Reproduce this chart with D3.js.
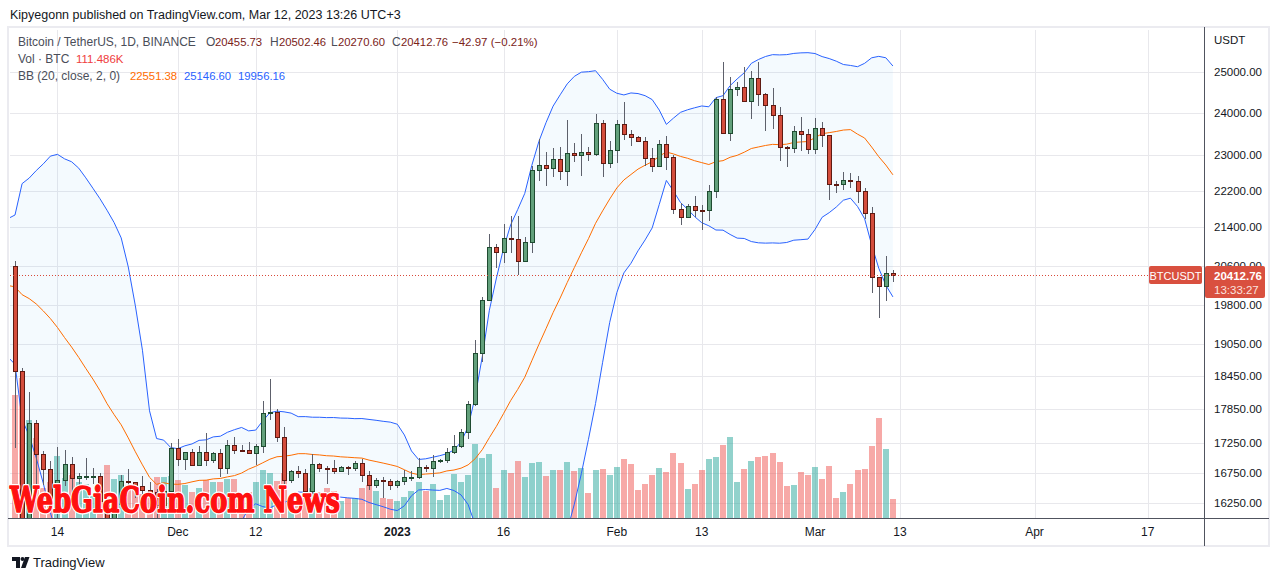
<!DOCTYPE html>
<html>
<head>
<meta charset="utf-8">
<script src="https://cdn.jsdelivr.net/npm/d3@7"></script>
<style>
  body { margin: 0; background: #fff; }
  svg { display: block; font-family: "Liberation Sans", Arial, sans-serif; }
</style>
</head>
<body>
<script>
// BTCUSDT daily, Binance, 2022-11-08 .. 2023-03-12
const firstDay = Date.UTC(2022, 10, 8);

const opens = [20590,18541,15922,17601,17070,16812,16330,16620,16900,16663,16693,16700,16700,16280,15781,16226,16603,16598,16522,16458,16428,16213,16442,
  17163,16978,17092,16885,17105,16967,17088,16836,17224,17128,17127,17085,17209,17775,17804,17356,16633,16777,16739,16438,16895,16824,16821,16778,16837,16830,16919,16706,16547,16633,16607,
  16542,16616,16672,16675,16850,16831,16951,16955,17091,17196,17446,17934,18869,19909,20977,20880,21169,21161,20688,21086,22667,22783,22707,22917,22632,23060,23009,23074,23022,23743,22827,
  23125,23733,23492,23432,23326,22932,22762,23249,22963,21797,21626,21862,21783,21773,22199,24324,23517,24569,24631,24271,24837,24439,24188,23947,23199,23157,23554,23492,
  23141,23628,23465,22354,22346,22430,22409,22195,21705,20362,20187,20456];
const highs = [20700,18587,18150,17655,17109,16947,17190,17134,17015,16740,16995,16821,16748,16300,16253,16707,16812,16600,16700,16600,16487,16530,17250,
  17320,17105,17158,17202,17424,17107,17142,17299,17360,17227,17270,17241,18000,18387,17854,17531,16796,16863,16815,17061,16919,16868,16955,16869,16861,16944,16972,16785,16664,16677,16650,
  16628,16799,16778,16991,16879,17041,16981,17176,17398,17499,17990,19117,19964,21258,21050,21466,21650,21650,21192,22755,23375,23078,23165,23180,23816,23282,23500,23189,23960,23816,23320,
  23812,24255,23587,23440,23430,23160,23358,23453,23011,21938,21906,22090,21888,22320,24380,25250,24873,24750,25121,25020,25250,24478,24600,24125,23221,23689,23895,23600,
  23880,23780,23476,22410,22613,22603,22537,22268,21834,20367,20792,20502];
const lows = [17166,15588,15754,16361,16545,16229,15815,16527,16378,16410,16628,16560,16182,15476,15645,16160,16458,16325,16400,16400,16001,16100,16428,
  16855,16787,16858,16878,16867,16906,16678,16733,17060,17091,17071,16871,17080,17660,17275,16527,16584,16663,16256,16398,16760,16559,16731,16759,16712,16786,16592,16465,16488,16333,16470,
  16499,16548,16605,16652,16753,16679,16908,16911,17064,17162,17315,17911,18714,19889,20551,20658,20850,20407,20665,20861,22422,22292,22500,22437,22300,22850,22534,22878,22979,22500,22714,
  22812,23363,23207,23324,22750,22628,22745,22665,21688,21451,21599,21633,21351,21532,22047,23505,23330,24404,24250,23840,24150,23574,23608,22862,22722,23060,23106,23020,
  23020,23195,22000,22157,22212,22259,21927,21580,20042,19549,19886,20271];
const closes = [18541,15922,17601,17070,16812,16330,16620,16900,16663,16693,16700,16700,16280,15781,16226,16603,16598,16522,16458,16428,16213,16442,17163,
  16978,17092,16885,17105,16967,17088,16836,17224,17128,17127,17085,17209,17775,17804,17356,16633,16777,16739,16438,16895,16824,16821,16778,16837,16830,16919,16706,16547,16633,16607,16542,
  16616,16672,16675,16850,16831,16951,16955,17091,17196,17446,17934,18869,19909,20977,20880,21169,21161,20688,21086,22667,22783,22707,22917,22632,23060,23009,23074,23022,23743,22827,23125,
  23733,23492,23432,23326,22932,22762,23249,22963,21797,21626,21862,21783,21773,22199,24324,23517,24569,24631,24271,24837,24439,24188,23947,23199,23157,23554,23492,23141,
  23628,23465,22354,22346,22430,22409,22195,21705,20362,20187,20456,20412.76];
// volume, thousands of BTC
const volumes = [722,822,575,470,176,211,364,235,252,211,200,129,176,311,229,252,194,164,141,141,241,241,247,
  223,194,153,176,223,211,211,229,229,129,153,211,282,264,217,264,106,100,147,176,153,176,158,100,117,117,176,194,158,117,112,
  100,123,158,211,158,200,106,135,258,211,252,434,352,376,176,282,264,335,241,323,329,247,282,282,329,276,294,147,282,288,252,
  299,346,317,164,200,252,294,270,382,323,170,200,282,346,358,429,475,211,288,335,358,364,382,329,188,194,270,252,
  299,229,305,117,153,200,282,288,423,587,405,111.486];
// closes Oct 19 .. Nov 7 2022, feeding the first Bollinger windows
const priorCloses = [19123,19041,19164,19204,19570,19330,20080,20771,20295,20591,20809,20627,20491,20483,20151,20207,21148,21300,20905,20591];

const priceTicks = [16250,16750,17250,17850,18450,19050,19800,20600,21400,22200,23000,24000,25000];
const dateTicks = [[2022,10,14],[2022,11,1],[2022,11,12],[2023,0,1],[2023,0,16],[2023,1,1],[2023,1,13],[2023,2,1],[2023,2,13],[2023,3,1],[2023,3,17]];
const dateLabels = ["14","Dec","12","2023","16","Feb","13","Mar","13","Apr","17"];
const lastPrice = 20412.76;

const W = 1280, H = 581;
const plot = {left: 10, right: 1204, top: 30, bottom: 518};

const upFill = "#62a07b", upLine = "#1f4b31";
const dnFill = "#d44d3c", dnLine = "#5f1a12";
const wickCol = "#5d606b";
const gridCol = "#e8e8ec";
const textCol = "#131722";

const data = closes.map((c, i) => ({
  date: d3.utcDay.offset(new Date(firstDay), i),
  o: opens[i], h: highs[i], l: lows[i], c: c, v: volumes[i]
}));

// bollinger 20 / 2
const allCloses = priorCloses.concat(closes);
const bb = [];
for (let k = 19; k < allCloses.length; k++) {
  const win = allCloses.slice(k - 19, k + 1);
  const m = d3.mean(win);
  const sd = Math.sqrt(d3.mean(win, v => (v - m) * (v - m)));
  bb.push({date: d3.utcDay.offset(new Date(firstDay), k - 20), mid: m, up: m + 2 * sd, lo: m - 2 * sd});
}

const x = d3.scaleUtc()
  .domain([new Date(firstDay), new Date(Date.UTC(2023, 2, 13))])
  .range([15, 900]);
const y = d3.scaleLog().domain([16250, 25000]).range([503, 71.7]);
const yVol = d3.scaleLinear().domain([0, 1000]).range([plot.bottom, plot.bottom - 170.4]);

const svg = d3.select("body").append("svg")
  .attr("width", W)
  .attr("height", H);

svg.append("defs").append("clipPath").attr("id", "plotclip")
  .append("rect")
  .attr("x", plot.left).attr("y", plot.top)
  .attr("width", plot.right - plot.left).attr("height", plot.bottom - plot.top);

// header
svg.append("text")
  .attr("x", 10).attr("y", 19)
  .attr("font-size", 12.5).attr("fill", textCol)
  .text("Kipyegonn published on TradingView.com, Mar 12, 2023 13:26 UTC+3");

// frame
svg.append("rect")
  .attr("x", 8).attr("y", 27).attr("width", 1261).attr("height", 519)
  .attr("fill", "none").attr("stroke", "#ebebf0").attr("stroke-width", 2);

// grid
const grid = svg.append("g").attr("shape-rendering", "crispEdges");
grid.selectAll(".hg").data(priceTicks).enter().append("line")
  .attr("x1", plot.left).attr("x2", plot.right)
  .attr("y1", d => Math.round(y(d)) + 0.5).attr("y2", d => Math.round(y(d)) + 0.5)
  .attr("stroke", gridCol);
const tickDates = dateTicks.map(d => new Date(Date.UTC(d[0], d[1], d[2])));
grid.selectAll(".vg").data(tickDates).enter().append("line")
  .attr("x1", d => Math.round(x(d)) + 0.5).attr("x2", d => Math.round(x(d)) + 0.5)
  .attr("y1", plot.top).attr("y2", plot.bottom)
  .attr("stroke", gridCol);

const g = svg.append("g").attr("clip-path", "url(#plotclip)");

// band fill
g.append("path").datum(bb)
  .attr("fill", "rgba(33,150,243,0.05)")
  .attr("d", d3.area().x(d => x(d.date)).y0(d => y(d.lo)).y1(d => y(d.up)));

// volume
g.append("g").attr("shape-rendering", "crispEdges")
  .selectAll("rect").data(data).enter().append("rect")
  .attr("x", d => Math.round(x(d.date)) - 3)
  .attr("width", 6)
  .attr("y", d => yVol(d.v))
  .attr("height", d => plot.bottom - yVol(d.v))
  .attr("fill", d => d.c >= d.o ? "rgba(38,166,154,0.5)" : "rgba(239,83,80,0.5)");

// bands
const line = key => d3.line().x(d => x(d.date)).y(d => y(d[key]));
g.append("path").datum(bb).attr("fill", "none").attr("stroke", "#2962ff").attr("stroke-width", 1).attr("d", line("up"));
g.append("path").datum(bb).attr("fill", "none").attr("stroke", "#2962ff").attr("stroke-width", 1).attr("d", line("lo"));
g.append("path").datum(bb).attr("fill", "none").attr("stroke", "#ff6d00").attr("stroke-width", 1).attr("d", line("mid"));

// candles
const cg = g.append("g").attr("shape-rendering", "crispEdges");
cg.selectAll("line").data(data).enter().append("line")
  .attr("x1", d => Math.round(x(d.date)) + 0.5).attr("x2", d => Math.round(x(d.date)) + 0.5)
  .attr("y1", d => y(d.h)).attr("y2", d => y(d.l))
  .attr("stroke", wickCol);
cg.selectAll("rect").data(data).enter().append("rect")
  .attr("x", d => Math.round(x(d.date)) - 2 + 0.5)
  .attr("width", 4)
  .attr("y", d => Math.round(y(Math.max(d.o, d.c))) + 0.5)
  .attr("height", d => Math.max(1, Math.round(y(Math.min(d.o, d.c))) - Math.round(y(Math.max(d.o, d.c)))))
  .attr("fill", d => d.c >= d.o ? upFill : dnFill)
  .attr("stroke", d => d.c >= d.o ? upLine : dnLine);

// last price line
const py = Math.round(y(lastPrice)) + 0.5;
g.append("line")
  .attr("x1", plot.left).attr("x2", plot.right)
  .attr("y1", py).attr("y2", py)
  .attr("stroke", "#d84a3a").attr("stroke-dasharray", "1,2");

// axes lines
svg.append("line").attr("x1", 1204.5).attr("x2", 1204.5).attr("y1", 27).attr("y2", 546)
  .attr("stroke", "#50535e");
svg.append("line").attr("x1", 8).attr("x2", 1269).attr("y1", 518.5).attr("y2", 518.5)
  .attr("stroke", "#50535e");

// price axis labels
svg.append("g").selectAll("text").data(priceTicks).enter().append("text")
  .attr("x", 1214).attr("y", d => y(d))
  .attr("dy", "0.35em")
  .attr("font-size", 11.5).attr("fill", textCol)
  .text(d => d3.format(".2f")(d));
svg.append("text").attr("x", 1214).attr("y", 44).attr("font-size", 11.5).attr("fill", textCol).text("USDT");

// date labels
svg.append("g").selectAll("text").data(tickDates).enter().append("text")
  .attr("x", d => x(d)).attr("y", 536)
  .attr("text-anchor", "middle")
  .attr("font-size", 12).attr("fill", textCol)
  .attr("font-weight", (d, i) => dateLabels[i] === "2023" ? "bold" : null)
  .text((d, i) => dateLabels[i]);

// last price tags
const tagCol = "#d9503f";
svg.append("rect").attr("x", 1149).attr("y", py - 9.5).attr("width", 53).attr("height", 18).attr("rx", 2).attr("fill", tagCol);
svg.append("text").attr("x", 1175.5).attr("y", py + 4).attr("text-anchor", "middle")
  .attr("font-size", 11).attr("fill", "#fff").text("BTCUSDT");
svg.append("rect").attr("x", 1205).attr("y", py - 9.5).attr("width", 60).attr("height", 32).attr("rx", 2).attr("fill", tagCol);
svg.append("text").attr("x", 1214).attr("y", py + 4).attr("font-size", 11.5).attr("font-weight", "bold")
  .attr("fill", "#fff").text(d3.format(".2f")(lastPrice));
svg.append("text").attr("x", 1214).attr("y", py + 18).attr("font-size", 11.5)
  .attr("fill", "#fbe3df").text("13:33:27");

// legend (labels 12px, numbers a touch narrower)
const legend = svg.append("g");
const legendRows = [
  [[18, "Bitcoin / TetherUS, 1D, BINANCE", "#4a4e59", 12], [206, "O", "#4a4e59", 12], [215, "20455.73", "#7a2218", 11.3],
   [270, "H", "#4a4e59", 12], [279, "20502.46", "#7a2218", 11.3], [331, "L", "#4a4e59", 12], [338, "20270.60", "#7a2218", 11.3],
   [392, "C", "#4a4e59", 12], [401, "20412.76", "#7a2218", 11.3], [452, "\u221242.97 (\u22120.21%)", "#7a2218", 11.5]],
  [[18, "Vol \u00b7 BTC", "#4a4e59", 12], [76, "111.486K", "#ef4040", 11.5]],
  [[18, "BB (20, close, 2, 0)", "#4a4e59", 12], [130, "22551.38", "#ff6d00", 11.3], [184, "25146.60", "#2962ff", 11.3], [238, "19956.16", "#2962ff", 11.3]]
];
legendRows.forEach((row, r) => {
  row.forEach(([lx, t, col, fs]) => {
    legend.append("text").attr("x", lx).attr("y", 46 + r * 17)
      .attr("font-size", fs).attr("fill", col).text(t);
  });
});

// watermark
const wm = svg.append("g")
  .attr("font-family", "'DejaVu Serif', serif")
  .attr("font-weight", "bold")
  .attr("font-size", 36);
wm.append("text")
  .attr("x", 10).attr("y", 512)
  .attr("textLength", 330).attr("lengthAdjust", "spacingAndGlyphs")
  .attr("fill", "#fff").attr("stroke", "#fff").attr("stroke-width", 4).attr("stroke-linejoin", "round")
  .text("WebGiaCoin.com News");
wm.append("text")
  .attr("x", 10).attr("y", 512)
  .attr("textLength", 330).attr("lengthAdjust", "spacingAndGlyphs")
  .attr("fill", "#ff1010").attr("stroke", "#ff1010").attr("stroke-width", 1.6).attr("stroke-linejoin", "round")
  .text("WebGiaCoin.com News");

// footer logo
const logo = svg.append("g").attr("fill", textCol);
logo.append("path").attr("d", "M12,557h8v11h-4v-7h-4z");
logo.append("circle").attr("cx", 22.5).attr("cy", 559).attr("r", 2);
logo.append("path").attr("d", "M25,557h4.5l-4,11h-4.5z");
svg.append("text").attr("x", 33).attr("y", 567).attr("font-size", 13).attr("fill", textCol).text("TradingView");
</script>
</body>
</html>
